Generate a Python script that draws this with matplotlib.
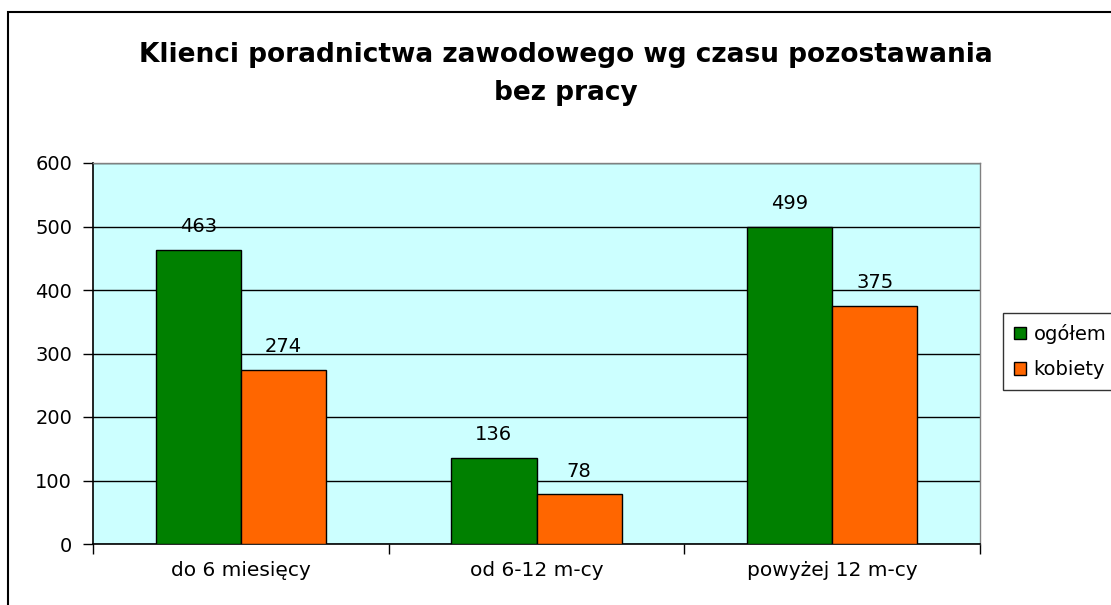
import matplotlib
matplotlib.use("Agg")
import matplotlib.pyplot as plt
import numpy as np
from matplotlib.patches import Rectangle

categories = ["do 6 miesięcy", "od 6-12 m-cy", "powyżej 12 m-cy"]
ogolem = [463, 136, 499]
kobiety = [274, 78, 375]
series_names = ["ogółem", "kobiety"]
yticks = [0, 100, 200, 300, 400, 500, 600]

plt.rcParams['font.family'] = ['DejaVu Sans']

fig = plt.figure(figsize=(11.11, 6.05), dpi=100)
fig.patch.set_facecolor('white')
# outer chart border (cut by image edge)
fig.patches.append(Rectangle((8/1111, -0.1), 1.2, 1 - 12/605 + 0.1, transform=fig.transFigure,
                             fill=False, edgecolor='black', linewidth=1.5))

ax = fig.add_axes([93/1111, 1 - 544/605, (980-93)/1111, (544-163)/605])
ax.set_facecolor('#CCFFFF')
x = np.arange(len(categories))
w = 0.288
b1 = ax.bar(x - w/2, ogolem, w, color='#008000', edgecolor='black', linewidth=1, label=series_names[0], zorder=3)
b2 = ax.bar(x + w/2, kobiety, w, color='#FF6600', edgecolor='black', linewidth=1, label=series_names[1], zorder=3)
for bars, vals in ((b1, ogolem), (b2, kobiety)):
    for r, v in zip(bars, vals):
        ax.text(r.get_x() + r.get_width()/2, v + 28, str(v), ha='center', va='baseline', fontsize=14, zorder=4)

ax.set_xlim(-0.5, 2.5)
ax.set_ylim(0, 600)
ax.set_yticks(yticks)
ax.set_yticklabels([str(t) for t in yticks], fontsize=14)
ax.yaxis.grid(True, color='black', linewidth=1, zorder=0)
ax.set_axisbelow(True)
ax.set_xticks([-0.5, 0.5, 1.5, 2.5])
ax.set_xticklabels([])
ax.set_xticks(x, minor=True)
ax.set_xticklabels(categories, minor=True, fontsize=14.5)
ax.tick_params(axis='x', which='minor', length=0, pad=12)
ax.tick_params(axis='x', which='major', length=7, width=1, direction='out')
ax.tick_params(axis='y', length=7, width=1, direction='out', pad=8)
for s in ['left', 'bottom']:
    ax.spines[s].set_color('black')
    ax.spines[s].set_linewidth(1.2)
for s in ['top', 'right']:
    ax.spines[s].set_color('#808080')
    ax.spines[s].set_linewidth(1)

fig.text(566/1111, 1 - 74/605, "Klienci poradnictwa zawodowego wg czasu pozostawania\nbez pracy",
         ha='center', va='center', fontsize=19, fontweight='bold', linespacing=1.55)

leg = fig.legend(handles=[b1, b2], labels=series_names, loc='upper left',
                 bbox_to_anchor=(1003/1111, 1 - 313/605), fontsize=14, frameon=True,
                 fancybox=False, edgecolor='black', handlelength=0.62, handleheight=0.62,
                 handletextpad=0.4, borderpad=0.55, labelspacing=0.85, borderaxespad=0)
leg.get_frame().set_linewidth(1)

fig.savefig("out.png", dpi=100)
